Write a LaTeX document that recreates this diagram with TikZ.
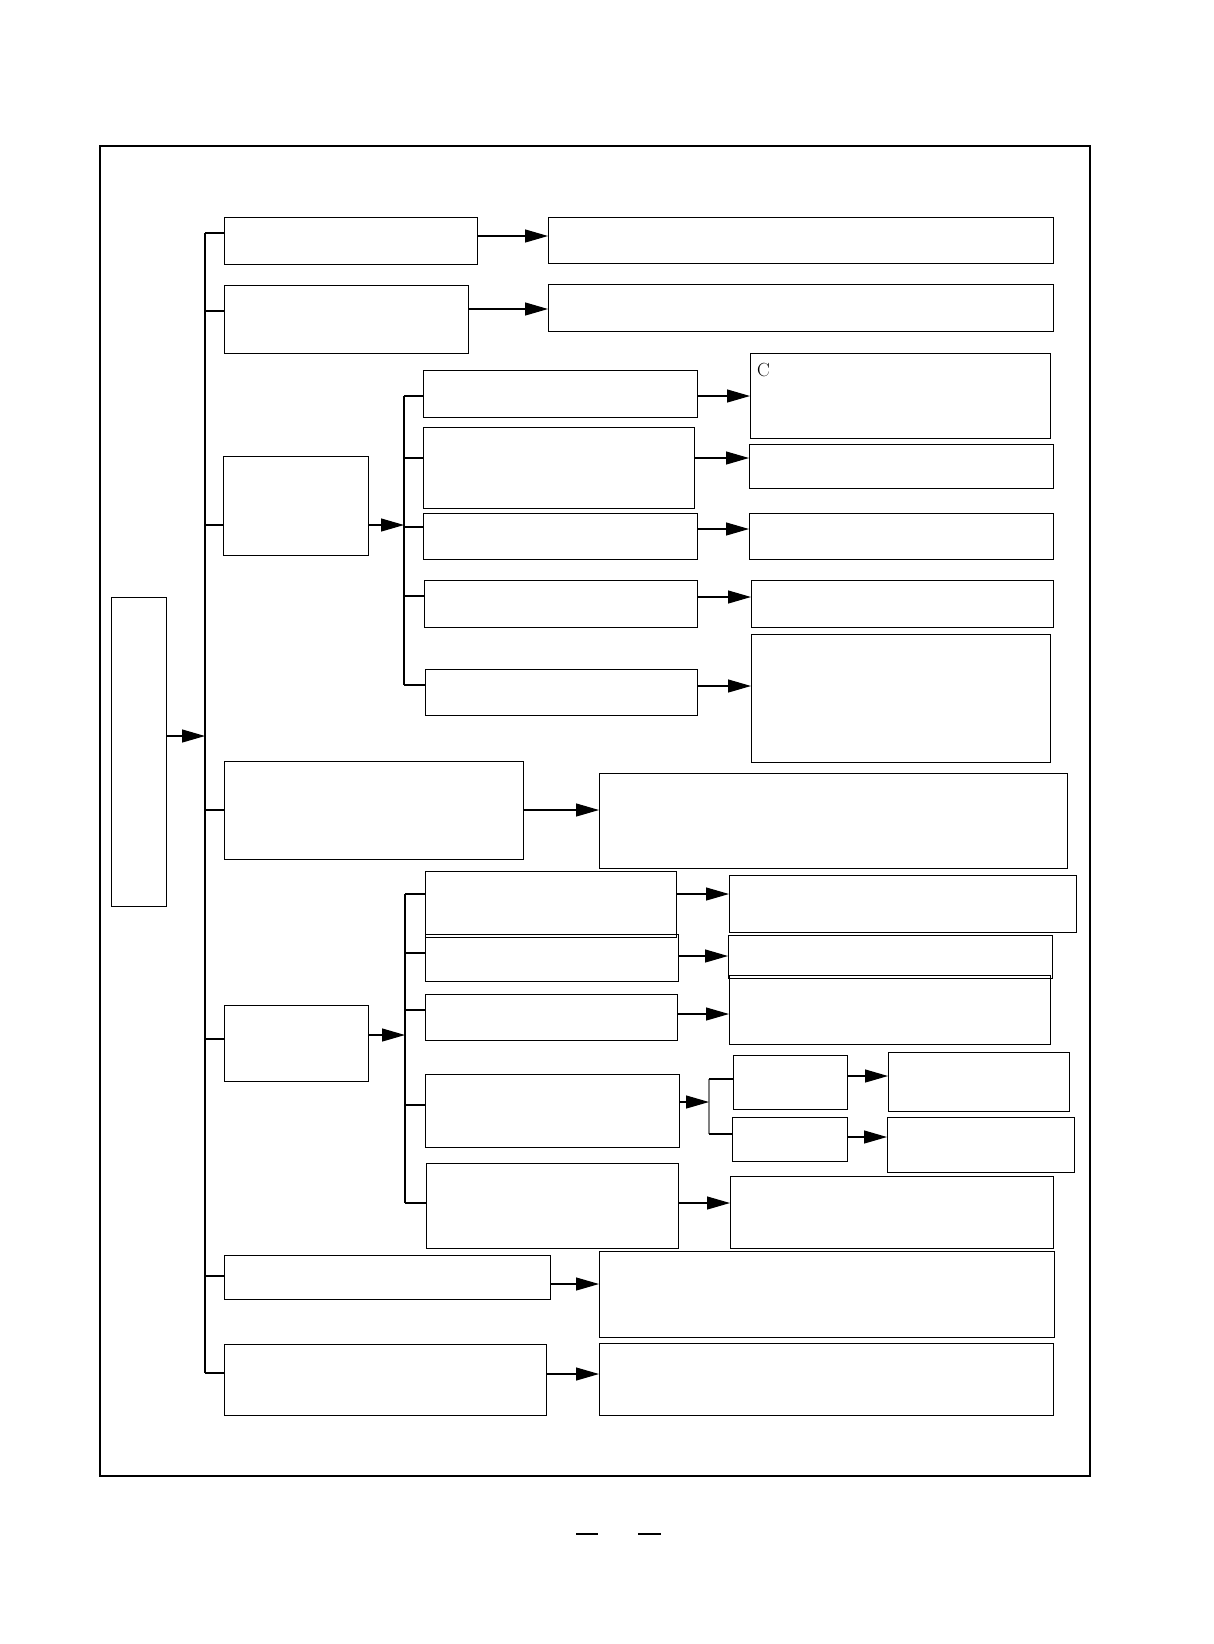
\documentclass[tikz,border=0pt]{standalone}
\usetikzlibrary{calc, arrows.meta}

\begin{document}
\begin{tikzpicture}[x=1pt, y=-1pt,
  box/.style={draw, line width=1.2pt, inner sep=0pt, anchor=north west},
  link/.style={line width=1.2pt},
  arr/.style={line width=1.2pt, -{Triangle[length=23pt, width=13pt]}}]
  \useasboundingbox (0,0) rectangle (1213,1644);
  \draw[line width=2pt] (100,146) rectangle (1090,1476);
  \foreach \n/\xa/\ya/\xb/\yb in {
    L/111/597/166/906,
    b1/224/217/477/264, b2/224/285/468/353, b3/223/456/368/555,
    b4/224/761/523/859, b5/224/1005/368/1081, b6/224/1255/550/1299,
    b7/224/1344/546/1415,
    r1/548/217/1053/263, r2/548/284/1053/331, r4/599/773/1067/868,
    r6/599/1251/1054/1337, r7/599/1343/1053/1415,
    s1/423/370/697/417, s2/423/427/694/508, s3/423/513/697/559,
    s4/424/580/697/627, s5/425/669/697/715,
    t1/750/353/1050/438, t2/749/444/1053/488, t3/749/513/1053/559,
    t4/751/580/1053/627, t5/751/634/1050/762,
    u1/425/871/676/937, u2/425/934/678/981, u3/425/994/677/1040,
    u4/425/1074/679/1147, u5/426/1163/678/1248,
    v1/729/875/1076/932, v2/728/935/1052/978, v3/729/975/1050/1044,
    v5/730/1176/1053/1248,
    w1/733/1055/847/1109, w2/732/1117/847/1161,
    x1/888/1052/1069/1111, x2/887/1117/1074/1172} {
    \pgfmathsetmacro{\bw}{\xb-\xa}
    \pgfmathsetmacro{\bh}{\yb-\ya}
    \node[box, minimum width=\bw pt, minimum height=\bh pt] (\n) at (\xa,\ya) {};
  }
  \node[anchor=north west, inner sep=0pt, font=\fontsize{19}{19}\selectfont] (tc) at ($(t1.north west)+(7,10)$) {C};
  % spines
  \coordinate (spine) at (205,0);
  \coordinate (subA) at (404,0);
  \coordinate (subB) at (405,0);
  \coordinate (subC) at (709,0);
  \draw[link] (spine |- 0,233) -- (spine |- 0,1373);
  \draw[link] (subA |- 0,396) -- (subA |- 0,685);
  \draw[link] (subB |- 0,894) -- (subB |- 0,1203);
  \draw[link, gray] (subC |- 0,1079) -- (subC |- 0,1134);
  \foreach \n/\y in {b1/233, b2/311, b3/525, b4/810, b5/1039, b6/1276, b7/1373}
    \draw[link] (spine |- 0,\y) -- (\n.west |- 0,\y);
  \foreach \n/\y in {s1/396, s2/458, s3/527, s4/596, s5/685}
    \draw[link] (subA |- 0,\y) -- (\n.west |- 0,\y);
  \foreach \n/\y in {u1/894, u2/953, u3/1010, u4/1105, u5/1203}
    \draw[link] (subB |- 0,\y) -- (\n.west |- 0,\y);
  \foreach \n/\y in {w1/1079, w2/1134}
    \draw[link] (subC |- 0,\y) -- (\n.west |- 0,\y);
  \draw[arr] (L.east |- 0,736) -- (spine |- 0,736);
  \draw[arr] (b3.east |- 0,525) -- (subA |- 0,525);
  \draw[arr] (b5.east |- 0,1035) -- (subB |- 0,1035);
  \draw[arr] (u4.east |- 0,1102) -- (subC |- 0,1102);
  \foreach \a/\b/\y in {b1/r1/236, b2/r2/309, s1/t1/396, s2/t2/458,
    s3/t3/529, s4/t4/597, s5/t5/686, b4/r4/810, u1/v1/894, u2/v2/956,
    u3/v3/1014, w1/x1/1076, w2/x2/1137, u5/v5/1203, b6/r6/1284, b7/r7/1374}
    \draw[arr] (\a.east |- 0,\y) -- (\b.west |- 0,\y);
  \draw[link] (576,1534) -- (598,1534);
  \draw[link] (638,1534) -- (661,1534);
\end{tikzpicture}
\end{document}
